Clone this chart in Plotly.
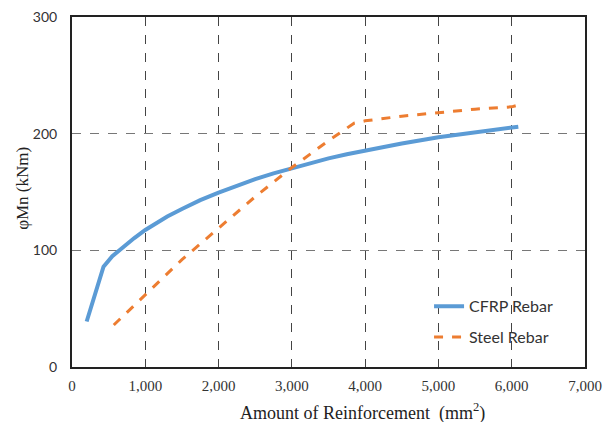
import plotly.graph_objects as go

cfrp_x = [200, 430, 550, 650, 750, 850, 1000, 1150, 1300, 1500, 1750, 2000, 2250, 2500, 2750, 3000, 3250, 3500, 3750, 4000, 4500, 5000, 5500, 6000, 6090]
cfrp_y = [39, 86, 95, 100.5, 105.5, 110.5, 117.5, 123.5, 129, 135.5, 143, 149.5, 155.5, 161, 166, 170.5, 174.8, 178.8, 182.3, 185.5, 191.5, 197, 201.3, 205, 206]

steel_x = [570, 1000, 1500, 2000, 2500, 3000, 3500, 3850, 4000, 4500, 5000, 5500, 6000, 6060]
steel_y = [36, 62, 92, 119, 146, 171, 194, 209, 211, 215, 218, 221, 223, 224]

x_ticks = [0, 1000, 2000, 3000, 4000, 5000, 6000, 7000]
x_tick_labels = ["0", "1,000", "2,000", "3,000", "4,000", "5,000", "6,000", "7,000"]
y_ticks = [0, 100, 200, 300]

fig = go.Figure()
fig.add_trace(go.Scatter(x=cfrp_x, y=cfrp_y, mode="lines", name="CFRP Rebar",
                         legendgroup="a",
                         line=dict(color="#5B9BD5", width=4)))
fig.add_trace(go.Scatter(x=steel_x, y=steel_y, mode="lines", name="Steel Rebar",
                         legendgroup="b",
                         line=dict(color="#ED7D31", width=3, dash="dash")))

serif = "Liberation Serif, Times New Roman, serif"
sans = "Lato, Liberation Sans, sans-serif"

fig.update_layout(
    width=609, height=422,
    margin=dict(l=72, r=24, t=17, b=55),
    paper_bgcolor="white", plot_bgcolor="white",
    showlegend=True,
    legend=dict(x=0.696, y=0.222, xanchor="left", yanchor="top",
                font=dict(family=sans, size=16, color="#333"),
                bgcolor="rgba(0,0,0,0)", traceorder="grouped", tracegroupgap=7),
    xaxis=dict(range=[0, 7000], tickvals=x_ticks, ticktext=x_tick_labels,
               showgrid=True, gridcolor="#444", griddash="dash", gridwidth=1,
               showline=True, linecolor="#222", linewidth=2, mirror=True,
               zeroline=False, ticks="outside", ticklen=4, tickcolor="rgba(0,0,0,0)",
               automargin=False,
               tickfont=dict(family=serif, size=15, color="#333")),
    yaxis=dict(range=[0, 300], tickvals=y_ticks,
               showgrid=True, gridcolor="#777", griddash="dash", gridwidth=1,
               showline=True, linecolor="#222", linewidth=2, mirror=True,
               zeroline=False, ticks="outside", ticklen=10, tickcolor="rgba(0,0,0,0)",
               automargin=False,
               tickfont=dict(family=sans, size=14, color="#333")),
    annotations=[
        dict(text="Amount of Reinforcement  (mm<sup>2</sup>)", xref="paper", yref="paper",
             x=0.567, y=0, xanchor="center", yanchor="middle", yshift=-45, showarrow=False,
             font=dict(family=serif, size=18, color="#222")),
        dict(text="φMn (kNm)", xref="paper", yref="paper", textangle=-90,
             x=0, y=0.509, xanchor="center", yanchor="middle", xshift=-49, showarrow=False,
             font=dict(family=serif, size=17, color="#222")),
    ],
)

fig.write_html("out.html")
